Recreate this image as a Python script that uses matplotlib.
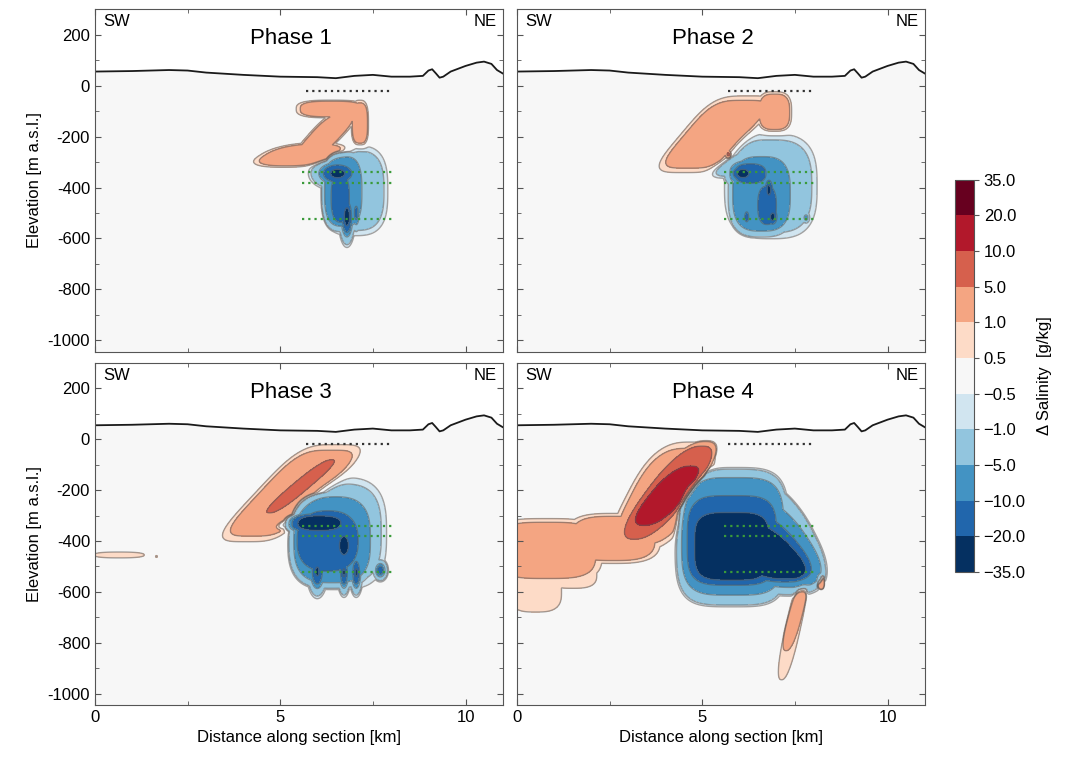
import numpy as np
import matplotlib
matplotlib.use("Agg")
import matplotlib.pyplot as plt
from matplotlib.colors import BoundaryNorm, ListedColormap
from matplotlib.cm import ScalarMappable
from matplotlib.ticker import MultipleLocator

plt.rcParams['font.family'] = ['Liberation Sans', 'DejaVu Sans']
plt.rcParams['axes.unicode_minus'] = False

# contour levels and band colours (delta salinity, g/kg)
levels = [-35, -20, -10, -5, -1, -0.5, 0.5, 1, 5, 10, 20, 35]
band_colors = ['#053061', '#2166ac', '#4393c3', '#92c5de', '#d1e5f0', '#f7f7f7',
               '#fddbc7', '#f4a582', '#d6604d', '#b2182b', '#67001f']
cbar_labels = ['\u221235.0', '\u221220.0', '\u221210.0', '\u22125.0', '\u22121.0', '\u22120.5',
               '0.5', '1.0', '5.0', '10.0', '20.0', '35.0']

# surface elevation along section
surf_x = [0, 1, 2, 2.5, 3, 4, 5, 6, 6.5, 7, 7.5, 8, 8.5, 8.85, 9.0, 9.1, 9.2, 9.3, 9.4,
          9.6, 10.0, 10.3, 10.5, 10.7, 10.85, 11.0]
surf_z = [55, 57, 61, 59, 51, 42, 35, 33, 29, 38, 42, 35, 35, 38, 59, 64, 48, 31, 35,
          55, 77, 90, 94, 85, 61, 48]

# sensor depths
black_line_x = [5.7, 7.95]
black_line_z = -20
green_line_x = [5.6, 8.05]
green_line_z = [-340, -381, -522]

# anomaly patches:
# (x centre km, z centre m, half width km, half height m, lean km/100 m, amplitude, sharpness, squareness)
phase1_patches = [
    (5.62, -272, 1.0, 42, 1.1, 3, 4, 2.5),
    (6.2, -200, 0.42, 88, 0.6, 3, 4, 3.0),
    (6.38, -92, 0.82, 30, 0.0, 3, 4, 3.0),
    (7.15, -150, 0.2, 80, 0.0, 3, 4, 3.0),
    (7.0, -412, 0.78, 153, 0.0, -3, 4, 3.0),
    (6.7, -415, 0.55, 150, 0.0, -7, 12, 3.0),
    (6.62, -440, 0.28, 110, 0.0, -14, 8, 2.5),
    (6.55, -345, 0.4, 35, 0.0, -25, 2, 2.0),
    (6.8, -515, 0.12, 60, 0.0, -28, 2, 2.0),
    (7.05, -500, 0.08, 45, 0.0, -14, 2, 2.0),
    (6.45, -450, 0.08, 60, 0.0, -14, 2, 2.0),
]
phase2_patches = [
    (5.37, -191, 0.82, 130, 0.58, 3, 4, 4.0),
    (6.95, -105, 0.4, 70, 0.0, 3, 4, 3.0),
    (5.7, -270, 0.06, 12, 0.0, 7, 2, 2.0),
    (6.85, -395, 1.08, 178, 0.0, -3, 4, 3.0),
    (6.2, -300, 0.6, 55, 0.9, -3, 4, 2.5),
    (6.6, -425, 0.85, 160, 0.0, -7, 12, 3.0),
    (6.3, -345, 0.55, 50, 0.0, -14, 4, 2.5),
    (6.75, -470, 0.3, 90, 0.0, -14, 6, 2.5),
    (6.1, -345, 0.25, 25, 0.0, -30, 2, 2.0),
    (6.8, -410, 0.1, 40, 0.0, -25, 2, 2.0),
    (6.9, -515, 0.12, 30, 0.0, -25, 2, 2.0),
    (6.2, -515, 0.08, 30, 0.0, -15, 2, 2.0),
    (7.8, -518, 0.07, 15, 0.0, -8, 2, 2.0),
]
phase3_patches = [
    (5.3, -212, 0.85, 165, 0.64, 3, 4, 4.0),
    (5.55, -185, 0.3, 115, 0.8, 8, 8, 2.5),
    (0.65, -455, 0.82, 14, 0.0, 0.8, 4, 2.5),
    (1.66, -461, 0.04, 6, 0.0, 0.7, 2, 2.0),
    (6.62, -370, 1.08, 190, 0.0, -3, 4, 3.0),
    (5.5, -320, 0.45, 30, 1.0, -3, 4, 2.5),
    (6.4, -395, 1.1, 180, 0.0, -8, 12, 3.0),
    (6.28, -400, 0.9, 130, 0.0, -14, 12, 2.5),
    (6.05, -330, 0.73, 36, 0.0, -30, 4, 2.5),
    (6.72, -418, 0.15, 45, 0.0, -30, 4, 2.0),
    (6.0, -520, 0.15, 55, 0.0, -22, 2, 2.0),
    (6.72, -525, 0.1, 50, 0.0, -22, 2, 2.0),
    (7.05, -525, 0.1, 50, 0.0, -22, 2, 2.0),
    (7.7, -515, 0.12, 25, 0.0, -15, 2, 2.0),
]
phase4_patches = [
    (0.8, -437, 1.3, 108, 0.0, 3, 4, 3.5),
    (2.6, -390, 1.1, 85, 0.0, 3, 4, 3.0),
    (0.5, -600, 0.75, 85, 0.0, 0.9, 8, 3.0),
    (1.5, -530, 0.7, 60, 0.0, 0.9, 8, 3.0),
    (3.95, -225, 0.87, 185, 0.35, 3, 4, 3.0),
    (4.08, -210, 0.65, 192, 0.5, 8, 16, 2.5),
    (4.06, -222, 0.55, 128, 0.54, 14, 12, 2.5),
    (7.45, -740, 0.22, 220, 0.15, 0.9, 8, 2.5),
    (7.5, -700, 0.18, 130, 0.18, 3, 8, 2.5),
    (8.2, -560, 0.1, 30, 0.0, 3, 8, 2.5),
    (5.8, -385, 1.49, 266, 0.0, -3, 20, 4.0),
    (6.5, -370, 1.5, 240, -0.35, -3, 20, 2.5),
    (5.82, -382, 1.43, 240, 0.0, -8, 20, 4.0),
    (6.5, -390, 1.4, 200, -0.45, -8, 20, 2.5),
    (5.8, -398, 1.27, 186, 0.0, -14, 20, 4.0),
    (6.4, -410, 1.25, 160, -0.55, -14, 20, 2.5),
    (5.8, -421, 1.05, 139, 0.0, -30, 20, 4.0),
    (6.5, -430, 1.0, 125, -0.62, -30, 20, 2.5),
]
phases = ['Phase 1', 'Phase 2', 'Phase 3', 'Phase 4']
phase_patches = [phase1_patches, phase2_patches, phase3_patches, phase4_patches]

xg = np.linspace(0, 11, 1101)
zg = np.linspace(-1050, 110, 581)
X, Z = np.meshgrid(xg, zg)
surface_on_grid = np.interp(xg, surf_x, surf_z)


def build_field(patches):
    pos = np.zeros_like(X)
    neg = np.zeros_like(X)
    for xc, zc, a, b, lean, amp, p, q in patches:
        du = (X - xc - lean * (Z - zc) / 100.0) / a
        dv = (Z - zc) / b
        r = (np.abs(du) ** q + np.abs(dv) ** q) ** (1.0 / q)
        val = amp * np.exp(-r ** p)
        if amp > 0:
            pos = np.maximum(pos, val)
        else:
            neg = np.minimum(neg, val)
    f = np.clip(pos + neg, -34.9, 34.9)
    return np.ma.masked_where(Z > surface_on_grid[None, :], f)


fig = plt.figure(figsize=(10.67, 7.6), dpi=100)
ax_pos = [[0.089, 0.537, 0.382, 0.451], [0.4845, 0.537, 0.382, 0.451],
          [0.089, 0.0724, 0.382, 0.45], [0.4845, 0.0724, 0.382, 0.45]]

for i, (title, patches) in enumerate(zip(phases, phase_patches)):
    ax = fig.add_axes(ax_pos[i])
    F = build_field(patches)
    ax.contourf(X, Z, F, levels=levels, colors=band_colors)
    ax.contour(X, Z, F, levels=levels[1:-1], colors='#5a5a5a', linewidths=1.0,
               alpha=0.55, linestyles='solid')
    ax.plot(surf_x, surf_z, color='#1a1a1a', lw=1.3)
    ax.plot(black_line_x, [black_line_z, black_line_z], color='#333333', lw=1.6, ls=(0, (1, 1.8)))
    for gz in green_line_z:
        ax.plot(green_line_x, [gz, gz], color='#3a9a3a', lw=1.6, ls=(0, (1, 1.8)))

    ax.set_xlim(0, 11)
    ax.set_ylim(-1045, 300)
    ax.xaxis.set_major_locator(MultipleLocator(5))
    ax.xaxis.set_minor_locator(MultipleLocator(2.5))
    ax.yaxis.set_major_locator(MultipleLocator(200))
    ax.yaxis.set_minor_locator(MultipleLocator(100))
    ax.tick_params(which='both', direction='in', top=True, right=True, color='#555555', labelsize=12)
    ax.tick_params(which='major', length=4)
    ax.tick_params(which='minor', length=3)
    for s in ax.spines.values():
        s.set_color('#555555')

    if i % 2 == 0:
        ax.set_ylabel('Elevation [m a.s.l.]', fontsize=12)
    else:
        ax.tick_params(labelleft=False)
    if i < 2:
        ax.tick_params(labelbottom=False)
    else:
        ax.set_xlabel('Distance along section [km]', fontsize=12)

    ax.text(0.02, 0.985, 'SW', transform=ax.transAxes, ha='left', va='top', fontsize=12)
    ax.text(0.985, 0.985, 'NE', transform=ax.transAxes, ha='right', va='top', fontsize=12)
    ax.text(0.48, 0.915, title, transform=ax.transAxes, ha='center', va='center', fontsize=16)

cax = fig.add_axes([0.895, 0.2474, 0.0178, 0.516])
norm = BoundaryNorm(levels, len(band_colors))
sm = ScalarMappable(norm=norm, cmap=ListedColormap(band_colors))
cb = fig.colorbar(sm, cax=cax, ticks=levels, spacing='uniform')
cb.ax.set_yticklabels(cbar_labels)
cb.ax.tick_params(labelsize=12, color='#555555')
cb.outline.set_edgecolor('#555555')
cb.set_label('\u0394 Salinity  [g/kg]', fontsize=12, labelpad=8)

fig.savefig('out.png', dpi=100)
